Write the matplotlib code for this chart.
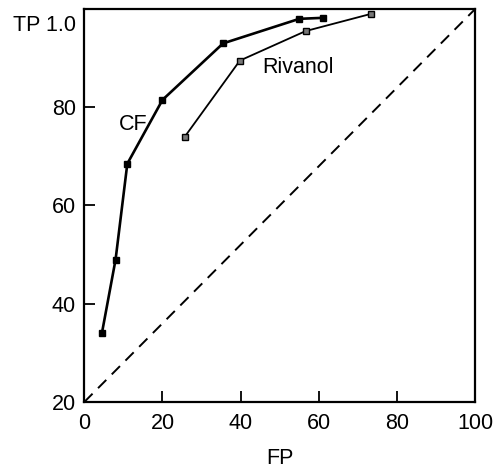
import matplotlib.pyplot as plt
from matplotlib.transforms import ScaledTranslation

plt.rcParams['font.family'] = ['Liberation Sans', 'DejaVu Sans']

cf_fp = [4.5, 8, 11, 20, 35.5, 55, 61]
cf_tp = [34, 49, 68.5, 81.5, 93, 98, 98.2]

riv_fp = [25.7, 39.8, 56.6, 73.3]
riv_tp = [74, 89.5, 95.5, 99]

chance_fp = [0, 100]
chance_tp = [20, 100]

xticks = [0, 20, 40, 60, 80, 100]
yticks = [20, 40, 60, 80, 100]
yticklabels = ['20', '40', '60', '80', 'TP 1.0']

fig = plt.figure(figsize=(4.96, 4.74), dpi=100)
ax = fig.add_axes([0.170, 0.152, 0.788, 0.829])

ax.plot(chance_fp, chance_tp, color='black', lw=1.4, ls=(0, (6, 4)))
ax.plot(cf_fp, cf_tp, color='black', lw=1.9, marker='s', ms=4.5,
        mfc='black', mec='black')
ax.plot(riv_fp, riv_tp, color='black', lw=1.3, marker='s', ms=4.5,
        mfc='#777777', mec='black', mew=1.0)

ax.text(12.5, 76.5, 'CF', fontsize=15.5, ha='center', va='center')
ax.text(45.5, 88, 'Rivanol', fontsize=15.5, ha='left', va='center')

ax.set_xlim(0, 100)
ax.set_ylim(20, 100)
ax.set_xticks(xticks)
ax.set_xticklabels([str(t) for t in xticks])
ax.set_yticks(yticks)
ax.set_yticklabels(yticklabels)
ax.tick_params(direction='in', length=8, width=1.3, labelsize=15.5)
ax.tick_params(axis='x', pad=8)
ax.tick_params(axis='y', pad=6)
for s in ax.spines.values():
    s.set_linewidth(1.6)

# the top label sits a little below its tick in the reference
top_lab = ax.get_yticklabels()[-1]
top_lab.set_transform(top_lab.get_transform() +
                      ScaledTranslation(0, -10 / 72, fig.dpi_scale_trans))

ax.set_xlabel('FP', fontsize=15.5, labelpad=10)

fig.savefig('out.png', dpi=100)
